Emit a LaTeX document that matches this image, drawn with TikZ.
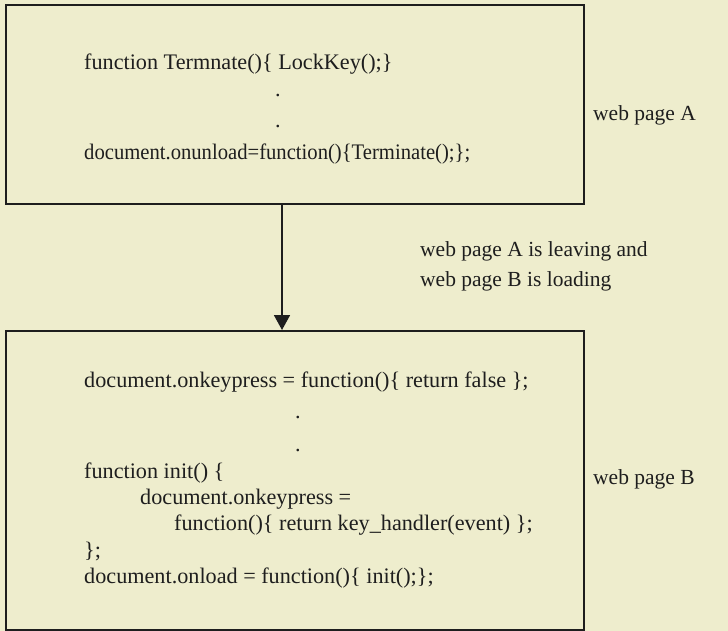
\documentclass[tikz,border=0pt]{standalone}
\usepackage{fontspec}
\setmainfont{Liberation Serif}
\usetikzlibrary{arrows.meta}
\definecolor{bgc}{RGB}{238,237,205}
\definecolor{ink}{RGB}{30,30,30}
\begin{document}
\begin{tikzpicture}[x=1pt,y=-1pt,
  lbl/.style={anchor=base west,inner sep=0pt,text=ink,font=\fontsize{21.5}{26}\selectfont},
  txt/.style={anchor=base west,inner sep=0pt,text=ink,font=\fontsize{22.2}{26}\selectfont},
  pagebox/.style={draw=ink,line width=1.8pt},
  flow/.style={draw=ink,line width=1.8pt,-{Triangle[width=16pt,length=15pt]}}]
\fill[bgc] (0,0) rectangle (728,631);
\useasboundingbox (0,0) rectangle (728,631);
% box A
\node[pagebox,minimum width=578pt,minimum height=199pt,anchor=north west,inner sep=0pt] (A) at (5,4) {};
\node[txt] (a1) at (84,70) {function Termnate()\{ LockKey();\}};
\node[txt] (a2) at (275,97) {.};
\node[txt] (a3) at (275,128) {.};
\node[txt,xscale=0.93] (a4) at (84,160) {document.onunload=function()\{Terminate();\};};
\node[lbl] (la) at (593,121) {web page A};
% box B
\node[pagebox,minimum width=578pt,minimum height=299pt,anchor=north west,inner sep=0pt] (B) at (5,330) {};
\node[txt] (b1) at (84,387) {document.onkeypress = function()\{ return false \};};
\node[txt] (b2) at (295,418) {.};
\node[txt] (b3) at (295,451) {.};
\node[txt] (b4) at (84,478) {function init() \{};
\node[txt] (b5) at (140,504) {document.onkeypress =};
\node[txt] (b6) at (174,530) {function()\{ return key\_handler(event) \};};
\node[txt] (b7) at (84,557) {\};};
\node[txt] (b8) at (84,583) {document.onload = function()\{ init();\};};
\node[lbl] (lb) at (593,484) {web page B};
% transition
\node[lbl] (t1) at (420,256) {web page A is leaving and};
\node[lbl] (t2) at (420,286) {web page B is loading};
\draw[flow] (A.south -| 282,0) -- (B.north -| 282,0);
\end{tikzpicture}
\end{document}
